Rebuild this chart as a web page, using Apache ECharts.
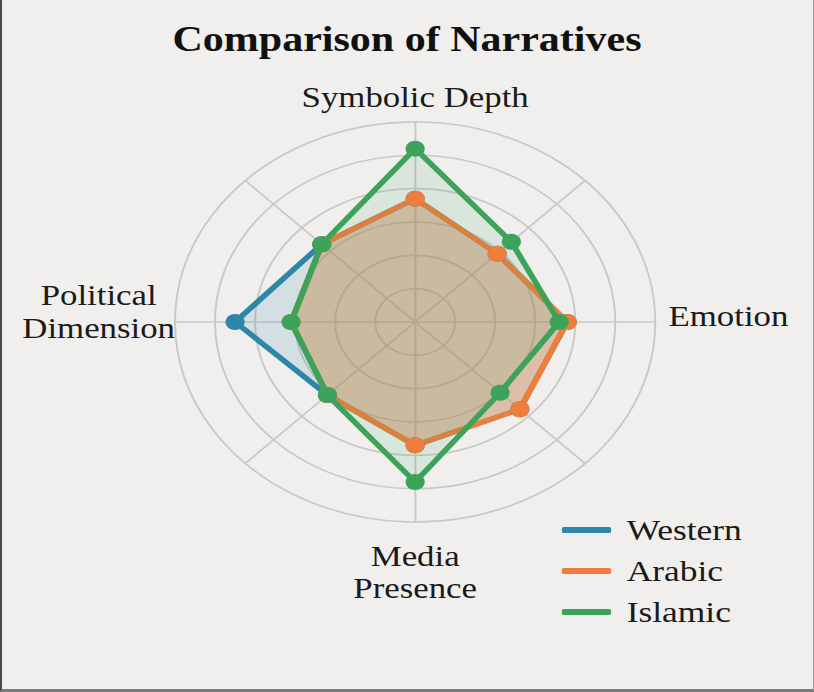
<!DOCTYPE html>
<html><head><meta charset="utf-8">
<script src="https://cdn.jsdelivr.net/npm/echarts@6/dist/echarts.min.js"></script>
<style>
html,body{margin:0;padding:0;background:#f0efed;overflow:hidden;width:814px;height:692px}
#frame{position:absolute;left:0;top:0;width:814px;height:692px;box-sizing:border-box;border-left:2px solid #4a4a4a;border-bottom:3px solid #7a7a7a;border-right:1px solid #9a9a9a}
#chart{position:absolute;left:0;top:0;width:678px;height:692px;transform:scaleX(1.20059);transform-origin:0 0}
</style></head><body>
<div id="frame"></div>
<div id="chart"></div>
<script>
// ---- data ----
const chartTitle = 'Comparison of Narratives';
const indicatorNames = ['Symbolic Depth', '', 'Political\nDimension', '', 'Media\nPresence', '', 'Emotion', ''];
const maxValue = 6;
const seriesNames = ['Western', 'Arabic', 'Islamic'];
const western = [3.7, 3.3, 4.5, 3.1, 3.7, 3.7, 3.8, 2.9];
const arabic  = [3.7, 3.3, 3.1, 3.1, 3.7, 3.7, 3.8, 2.9];
const islamic = [5.2, 3.3, 3.1, 3.1, 4.8, 3.0, 3.6, 3.4];

// ---- styles ----
const seriesValues = [western, arabic, islamic];
const nameSide = ['top', '', 'left', '', 'bottom', '', 'right', ''];
const lineColors = ['#2e86a8', '#ef7d3c', '#3ea35a'];
const areaColors = ['rgba(46,134,168,0.15)', 'rgba(239,125,60,0.34)', 'rgba(62,163,90,0.12)'];
const FONT = 'Liberation Serif';
const TXT = '#1a1a1a';

const chart = echarts.init(document.getElementById('chart'), null, {renderer: 'svg'});
const base = {fontFamily: FONT, fontSize: 29, color: TXT};
chart.setOption({
  backgroundColor: 'transparent',
  animation: false,
  title: {
    text: chartTitle, left: 'center', top: 17,
    textStyle: {fontFamily: FONT, fontWeight: 'bold', fontSize: 35, color: '#111'}
  },
  legend: {
    orient: 'vertical', left: 468, top: 515, padding: 0,
    icon: 'roundRect', itemWidth: 41, itemHeight: 6, itemGap: 11,
    textStyle: {fontFamily: FONT, fontSize: 29.5, color: TXT, lineHeight: 30, padding: [0, 0, 0, 8]},
    data: seriesNames
  },
  radar: {
    center: [345.8, 322], radius: 200, startAngle: 90,
    splitNumber: 6, shape: 'circle', axisNameGap: 0,
    indicator: indicatorNames.map(n => ({name: n, min: 0, max: maxValue})),
    axisLine: {lineStyle: {color: '#c8c8c8', width: 1.6}},
    splitLine: {lineStyle: {color: '#c8c8c8', width: 1.6}},
    splitArea: {show: false},
    axisName: {
      fontFamily: FONT, fontSize: 29, color: TXT,
      formatter: function (value) {
        const i = indicatorNames.indexOf(value);
        if (!value || i < 0) return '';
        const side = nameSide[i];
        return value.split('\n').map((l, k) => '{' + side + (side === 'bottom' && k === 0 ? '1' : '') + '|' + l + '}').join('\n');
      },
      rich: {
        top: Object.assign({}, base, {padding: [0, 0, 10, 0]}),
        right: Object.assign({}, base, {padding: [0, 0, 12, 11]}),
        left: Object.assign({}, base, {align: 'center', lineHeight: 33, padding: [0, 0, 20, 0]}),
        bottom1: Object.assign({}, base, {padding: [20, 0, 0, 0]}),
        bottom: Object.assign({}, base, {lineHeight: 34})
      }
    }
  },
  series: seriesNames.map((n, i) => ({
    type: 'radar', name: n, symbol: 'circle', symbolSize: 16,
    lineStyle: {color: lineColors[i], width: 5},
    itemStyle: {color: lineColors[i]},
    areaStyle: {color: areaColors[i], opacity: 1},
    data: [{value: seriesValues[i], name: n}]
  }))
});
</script>
</body></html>
